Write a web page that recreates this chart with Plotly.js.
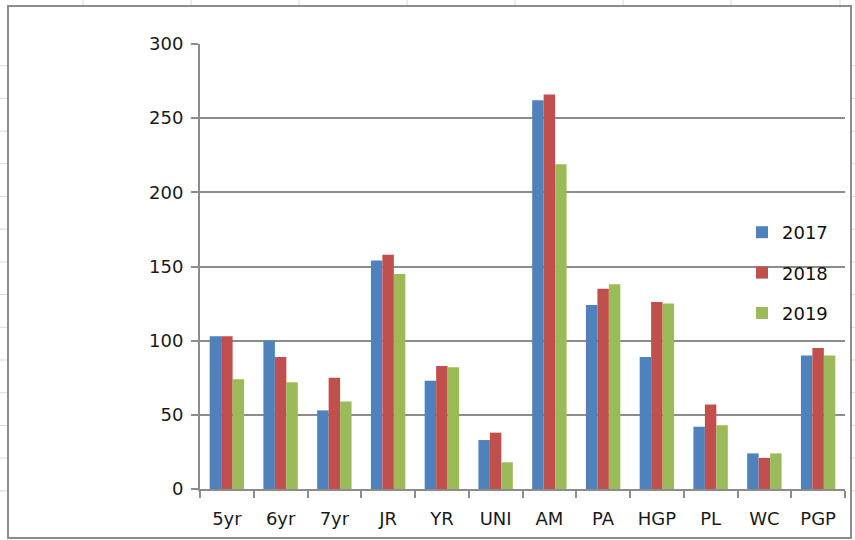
<!DOCTYPE html>
<html>
<head>
<meta charset="utf-8">
<script src="https://cdn.plot.ly/plotly-3.0.1.min.js"></script>
<style>
html,body{margin:0;padding:0;background:#fff;}
#chart{width:855px;height:540px;}
</style>
</head>
<body>
<div id="chart"></div>
<script>
var categories = ["5yr","6yr","7yr","JR","YR","UNI","AM","PA","HGP","PL","WC","PGP"];
var values2017 = [103, 100, 53, 154, 73, 33, 262, 124, 89, 42, 24, 90];
var values2018 = [103, 89, 75, 158, 83, 38, 266, 135, 126, 57, 21, 95];
var values2019 = [74, 72, 59, 145, 82, 18, 219, 138, 125, 43, 24, 90];
var seriesNames = ["2017","2018","2019"];
var yTicks = [0, 50, 100, 150, 200, 250, 300];

var colors = ["#4F81BD","#C0504D","#9BBB59"];
var font = "DejaVu Sans, sans-serif";

var L = 200, R = 845, T = 44, B = 489;
function px(x){ return (x - L) / (R - L); }
function py(y){ return (B - y) / (B - T); }

var shapes = [];
var cellColor = "#d9d9d9";
[83,191,299,407,515,623,731,840].forEach(function(x){
  shapes.push({type:"line", xref:"paper", yref:"paper", x0:px(x), x1:px(x), y0:py(0), y1:py(6), line:{color:cellColor, width:1}, layer:"below"});
});
for (var k = 0; k < 14; k++) {
  var yy = 65.7 + 32.7 * k;
  shapes.push({type:"line", xref:"paper", yref:"paper", x0:px(0), x1:px(8), y0:py(yy), y1:py(yy), line:{color:cellColor, width:1}, layer:"below"});
  shapes.push({type:"line", xref:"paper", yref:"paper", x0:px(851), x1:px(855), y0:py(yy), y1:py(yy), line:{color:cellColor, width:1}, layer:"below"});
}
shapes.push({type:"rect", xref:"paper", yref:"paper", x0:px(8), x1:px(851), y0:py(538), y1:py(6), line:{color:"#8c8c8c", width:2}, layer:"below"});

var allValues = [values2017, values2018, values2019];
var data = allValues.map(function(v, i){
  return {
    type:"bar", x:categories, y:v, name:seriesNames[i], legendgroup:"g"+i,
    marker:{color:colors[i], line:{width:0}}, hoverinfo:"x+y+name"
  };
});

var layout = {
  width:855, height:540,
  margin:{l:L, r:855-R, t:T, b:540-B, pad:0},
  paper_bgcolor:"#fff", plot_bgcolor:"#fff",
  barmode:"group", bargap:0.36, bargroupgap:0,
  font:{family:font, size:18, color:"#1a1a1a"},
  showlegend:true,
  legend:{x:px(742), y:py(214), xanchor:"left", yanchor:"top", bgcolor:"rgba(0,0,0,0)",
          traceorder:"grouped", tracegroupgap:14, font:{family:font, size:18, color:"#111"},
          itemwidth:30},
  xaxis:{type:"category", showline:true, linecolor:"#8c8c8c", linewidth:2,
         ticks:"outside", tickson:"boundaries", ticklen:7, tickcolor:"#8c8c8c", tickwidth:2,
         ticklabelstandoff:12,
         showgrid:false, tickfont:{family:font, size:18, color:"#1a1a1a"}, automargin:false},
  yaxis:{range:[0,300], tickvals:yTicks, ticktext:yTicks.map(String), showline:true,
         linecolor:"#8c8c8c", linewidth:2, ticks:"outside", ticklen:7, tickcolor:"#8c8c8c", tickwidth:2,
         ticklabelstandoff:4,
         showgrid:true, gridcolor:"#8c8c8c", gridwidth:2, zeroline:false,
         tickfont:{family:font, size:18, color:"#1a1a1a"}, automargin:false},
  shapes:shapes
};

Plotly.newPlot("chart", data, layout, {staticPlot:true, displayModeBar:false});
</script>
</body>
</html>
